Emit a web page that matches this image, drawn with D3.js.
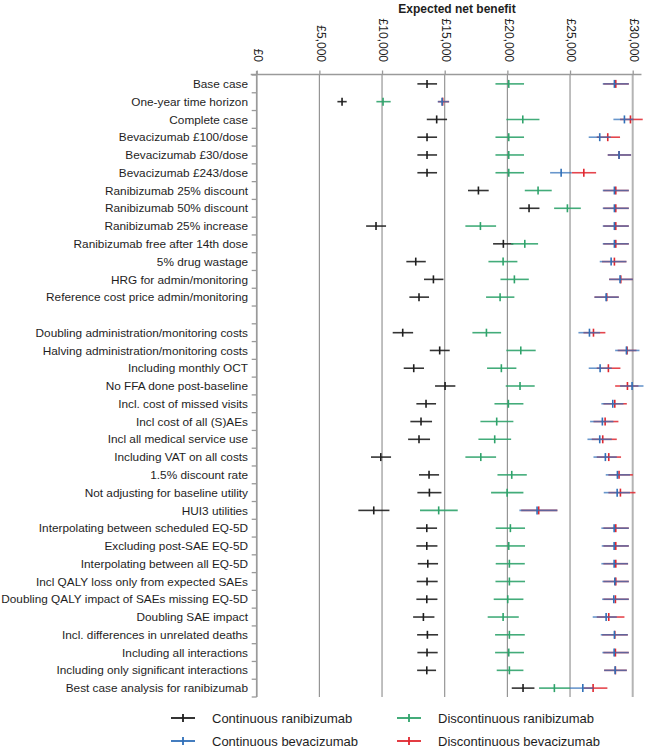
<!DOCTYPE html>
<html><head><meta charset="utf-8">
<script src="https://cdn.jsdelivr.net/npm/d3@7"></script>
<style>
html,body{margin:0;padding:0;background:#fff;}
svg{display:block;}
text{font-family:"Liberation Sans",Arial,sans-serif;fill:#1e1e1e;}
</style></head>
<body>
<svg id="chart" width="651" height="750"></svg>
<script>
const categories = [
"Base case","One-year time horizon","Complete case","Bevacizumab £100/dose","Bevacizumab £30/dose",
"Bevacizumab £243/dose","Ranibizumab 25% discount","Ranibizumab 50% discount","Ranibizumab 25% increase",
"Ranibizumab free after 14th dose","5% drug wastage","HRG for admin/monitoring","Reference cost price admin/monitoring",
"",
"Doubling administration/monitoring costs","Halving administration/monitoring costs","Including monthly OCT",
"No FFA done post-baseline","Incl. cost of missed visits","Incl cost of all (S)AEs","Incl all medical service use",
"Including VAT on all costs","1.5% discount rate","Not adjusting for baseline utility","HUI3 utilities",
"Interpolating between scheduled EQ-5D","Excluding post-SAE EQ-5D","Interpolating between all EQ-5D",
"Incl QALY loss only from expected SAEs","Doubling QALY impact of SAEs missing EQ-5D","Doubling SAE impact",
"Incl. differences in unrelated deaths","Including all interactions","Including only significant interactions",
"Best case analysis for ranibizumab"];

// [estimate, lower, upper]
const continuousRanibizumab = [
[13590,12820,14390],[6810,6440,7180],[14360,13570,15190],[13590,12820,14390],[13590,12820,14390],
[13590,12820,14390],[17690,16860,18510],[21730,20960,22560],[9520,8730,10320],[19680,18860,20480],
[12690,11940,13490],[14100,13350,14900],[12950,12180,13750],null,
[11650,10850,12480],[14600,13810,15400],[12530,11730,13350],[15030,14230,15850],[13510,12740,14310],
[13110,12260,13990],[12950,12080,13830],[9900,9120,10720],[13750,12950,14550],[13780,12820,14740],
[9340,8110,10590],[13570,12740,14390],[13570,12740,14420],[13650,12850,14470],[13590,12770,14440],
[13570,12740,14420],[13300,12480,14180],[13620,12800,14470],[13590,12820,14440],[13570,12800,14310],
[21250,20350,22160]];

const discontinuousRanibizumab = [
[20110,19050,21330],[10080,9550,10690],[21230,19920,22560],[20110,19050,21330],[20110,19050,21330],
[20110,19050,21330],[22450,21390,23540],[24790,23730,25860],[17850,16650,19100],[21390,20300,22450],
[19660,18490,20800],[20560,19450,21710],[19420,18300,20560],null,
[18330,17210,19500],[21070,19920,22260],[19520,18380,20720],[21010,19870,22180],[20080,18970,21280],
[19150,17850,20480],[18990,17690,20300],[17880,16650,19100],[20350,19210,21550],[19980,18700,21280],
[14520,13030,16040],[20240,19070,21410],[20110,19070,21410],[20160,19070,21390],[20160,19050,21410],
[20030,18910,21280],[19660,18430,20910],[20160,19020,21390],[20110,19020,21330],[20160,19150,21280],
[23750,22530,25000]];

const continuousBevacizumab = [
[28540,27610,29690],[14790,14440,15350],[29340,28460,30060],[27370,26490,28250],[28910,28010,29870],
[24290,23410,25140],[28540,27610,29690],[28540,27610,29690],[28540,27610,29690],[28540,27610,29690],
[28280,27370,29500],[28990,28120,30010],[27880,26950,28890],null,
[26550,25670,27400],[29500,28600,30540],[27400,26490,28330],[29950,28990,30860],[28410,27500,29260],
[27580,26600,28460],[27370,26390,28330],[27820,26870,28730],[28780,27850,29790],[28760,27690,29790],
[22370,20960,23990],[28520,27500,29690],[28520,27530,29690],[28520,27500,29630],[28570,27580,29690],
[28490,27560,29690],[27880,26810,28730],[28540,27450,29610],[28520,27580,29690],[28600,27720,29530],
[26020,25000,26870]];

const discontinuousBevacizumab = [
[28650,27660,29690],[14840,14470,15350],[29820,28990,30800],[28010,27130,28990],[28910,28010,29870],
[26100,25140,27080],[28650,27660,29690],[28650,27660,29690],[28650,27660,29690],[28650,27660,29690],
[28540,27550,29500],[29050,28120,30010],[27930,26950,28890],null,
[26870,26070,27820],[29550,28800,30300],[28060,27130,29020],[29580,28600,30460],[28570,27660,29530],
[27800,26870,28860],[27610,26730,28730],[28090,27130,29070],[28910,28060,30010],[29020,28060,30220],
[22500,21100,23990],[28650,27660,29690],[28650,27660,29690],[28650,27660,29630],[28650,27660,29690],
[28620,27660,29690],[28090,27130,29340],[28570,27560,29610],[28620,27660,29690],[28620,27720,29530],
[26840,26070,27980]];

const tickValues = [0,5000,10000,15000,20000,25000,30000];
const axisTitle = "Expected net benefit";
const seriesNames = ["Continuous ranibizumab","Discontinuous ranibizumab","Continuous bevacizumab","Discontinuous bevacizumab"];
const seriesColors = ["#1e1e1e","#2fa36b","#2f6fb8","#e0262e"];
const seriesData = [continuousRanibizumab, discontinuousRanibizumab, continuousBevacizumab, discontinuousBevacizumab];
const drawOrder = [0,1,3,2];
const lineOpacity = [0.9,0.9,0.72,0.85];

const svg = d3.select("#chart");
const pL = 256.7, pR = 632.7, pT = 75, pB = 697;
const x = d3.scaleLinear().domain([0,30000]).range([pL,pR]);
const xMax = 30700;
const y = d3.scaleBand().domain(d3.range(categories.length)).range([pT,pB]).padding(0);

// title
svg.append("text").attr("x",457).attr("y",13).attr("text-anchor","middle")
  .style("font-size","12px").style("font-weight","bold").text(axisTitle);

// gridlines
svg.append("g").selectAll("line").data(tickValues).join("line")
  .attr("x1",d=>x(d)).attr("x2",d=>x(d)).attr("y1",pT-1).attr("y2",pB)
  .attr("stroke",d=>d===30000?"#b4b4b4":"#8c8c8c").attr("stroke-width",d=>d===30000?2:1.1);

// top axis
const topAxis = d3.axisTop(x).tickValues(tickValues).tickSize(4).tickFormat(()=>"");
const gTop = svg.append("g").attr("transform",`translate(0,${pT-0.5})`).call(topAxis);
gTop.select(".domain").remove();
gTop.selectAll(".tick line").attr("stroke","#999").attr("stroke-width",1.3);
svg.append("line").attr("x1",pL-6).attr("x2",x(xMax)).attr("y1",pT-0.5).attr("y2",pT-0.5)
  .attr("stroke","#9a9a9a").attr("stroke-width",1.6);
// rotated tick labels
svg.append("g").selectAll("text").data(tickValues).join("text")
  .attr("transform",d=>`translate(${x(d)+1.5},62) rotate(90)`)
  .attr("text-anchor","end").attr("dy","0.35em").style("font-size","12px")
  .text(d=>"£"+d3.format(",")(d));

// left axis line and boundary ticks
svg.append("line").attr("x1",pL).attr("x2",pL).attr("y1",pT-4).attr("y2",pB)
  .attr("stroke","#9a9a9a").attr("stroke-width",1.6);
const bounds = d3.range(categories.length+1).map(i=>pT+i*y.step());
svg.append("g").selectAll("line").data(bounds).join("line")
  .attr("x1",pL-5).attr("x2",pL).attr("y1",d=>d).attr("y2",d=>d)
  .attr("stroke","#9a9a9a").attr("stroke-width",1.3);

// category labels
const labels = svg.append("g").selectAll("text").data(categories).join("text")
  .attr("x",248).attr("y",(d,i)=>y(i)+y.bandwidth()/2).attr("dy","0.35em")
  .attr("text-anchor","end").style("font-size","11px").text(d=>d);
let maxW = 0; labels.each(function(){maxW=Math.max(maxW,this.getComputedTextLength());});
const fs = 11*247/maxW;
labels.style("font-size",fs+"px");

// error bars
const half = 4;
drawOrder.forEach(s=>{
  const arr = seriesData[s];
  const g = svg.append("g");
  const rows = arr.map((v,i)=>v?{i,v}:null).filter(Boolean);
  g.selectAll("line.h").data(rows).join("line").attr("class","h")
    .attr("x1",d=>x(d.v[1])).attr("x2",d=>x(d.v[2]))
    .attr("y1",d=>y(d.i)+y.bandwidth()/2).attr("y2",d=>y(d.i)+y.bandwidth()/2)
    .attr("stroke",seriesColors[s]).attr("stroke-width",1.6).attr("stroke-opacity",lineOpacity[s]);
  g.selectAll("line.v").data(rows).join("line").attr("class","v")
    .attr("x1",d=>x(d.v[0])).attr("x2",d=>x(d.v[0]))
    .attr("y1",d=>y(d.i)+y.bandwidth()/2-half).attr("y2",d=>y(d.i)+y.bandwidth()/2+half)
    .attr("stroke",seriesColors[s]).attr("stroke-width",1.6);
});

// legend
const legPos = [[171,718],[397,718],[171,741],[397,741]];
const leg = svg.append("g");
seriesNames.forEach((n,s)=>{
  const [lx,ly] = legPos[s];
  leg.append("line").attr("x1",lx).attr("x2",lx+24).attr("y1",ly).attr("y2",ly)
    .attr("stroke",seriesColors[s]).attr("stroke-width",1.8);
  leg.append("line").attr("x1",lx+12).attr("x2",lx+12).attr("y1",ly-half).attr("y2",ly+half)
    .attr("stroke",seriesColors[s]).attr("stroke-width",1.8);
  leg.append("text").attr("x",lx+41).attr("y",ly).attr("dy","0.35em")
    .style("font-size","13px").text(n);
});
</script>
</body></html>
